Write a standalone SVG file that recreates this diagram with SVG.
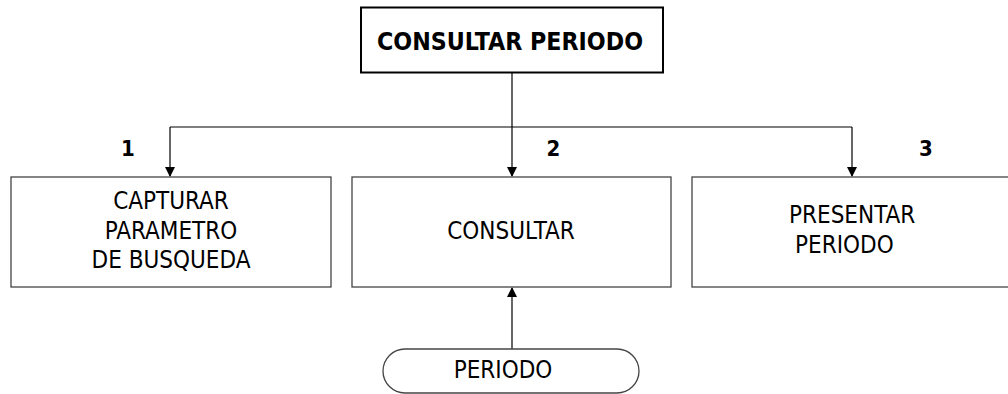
<svg xmlns="http://www.w3.org/2000/svg" width="1008" height="394" viewBox="0 0 1008 394">
<style>
.box{fill:#fff;stroke:#444;stroke-width:1.3}
.top{fill:#fff;stroke:#000;stroke-width:2}
.t{font-family:"DejaVu Sans Condensed","DejaVu Sans",sans-serif;font-stretch:condensed;font-size:24px;fill:#000}
.b{font-family:"DejaVu Sans Condensed","DejaVu Sans",sans-serif;font-stretch:condensed;font-weight:bold;fill:#000}
.c{fill:none;stroke:#000;stroke-width:1.2}
</style>
<defs>
<marker id="ah" markerWidth="10" markerHeight="10" refX="9" refY="5" orient="auto" markerUnits="userSpaceOnUse">
<path d="M0,0 L10,5 L0,10 Z" fill="#000"/>
</marker>
</defs>
<g id="connectors">
<path class="c" d="M512,73 V127"/>
<path class="c" d="M170,127 H852"/>
<path class="c" d="M170,127 V176" marker-end="url(#ah)"/>
<path class="c" d="M512,127 V176" marker-end="url(#ah)"/>
<path class="c" d="M852,127 V176" marker-end="url(#ah)"/>
<path class="c" d="M512,349 V288" marker-end="url(#ah)"/>
</g>
<g id="node-top">
<rect class="top" x="361" y="7.5" width="302" height="65"/>
<text class="b" x="510" y="50" font-size="25" text-anchor="middle" textLength="266" lengthAdjust="spacingAndGlyphs">CONSULTAR PERIODO</text>
</g>
<g id="node-1">
<rect class="box" x="11" y="177" width="320" height="110"/>
<text class="t" x="171" y="209" text-anchor="middle">CAPTURAR</text>
<text class="t" x="171" y="239" text-anchor="middle">PARAMETRO</text>
<text class="t" x="171" y="268" text-anchor="middle">DE BUSQUEDA</text>
<text class="b" x="128" y="156" font-size="22" text-anchor="middle">1</text>
</g>
<g id="node-2">
<rect class="box" x="352" y="177" width="319" height="110"/>
<text class="t" x="511" y="239" text-anchor="middle">CONSULTAR</text>
<text class="b" x="553.5" y="156" font-size="22" text-anchor="middle">2</text>
</g>
<g id="node-3">
<rect class="box" x="692" y="177" width="330" height="110"/>
<text class="t" x="789" y="223">PRESENTAR</text>
<text class="t" x="795" y="253">PERIODO</text>
<text class="b" x="926" y="156" font-size="22" text-anchor="middle">3</text>
</g>
<g id="node-periodo">
<rect class="box" x="383" y="349" width="256" height="44" rx="22" ry="22"/>
<text class="t" x="503" y="378" text-anchor="middle">PERIODO</text>
</g>
</svg>
